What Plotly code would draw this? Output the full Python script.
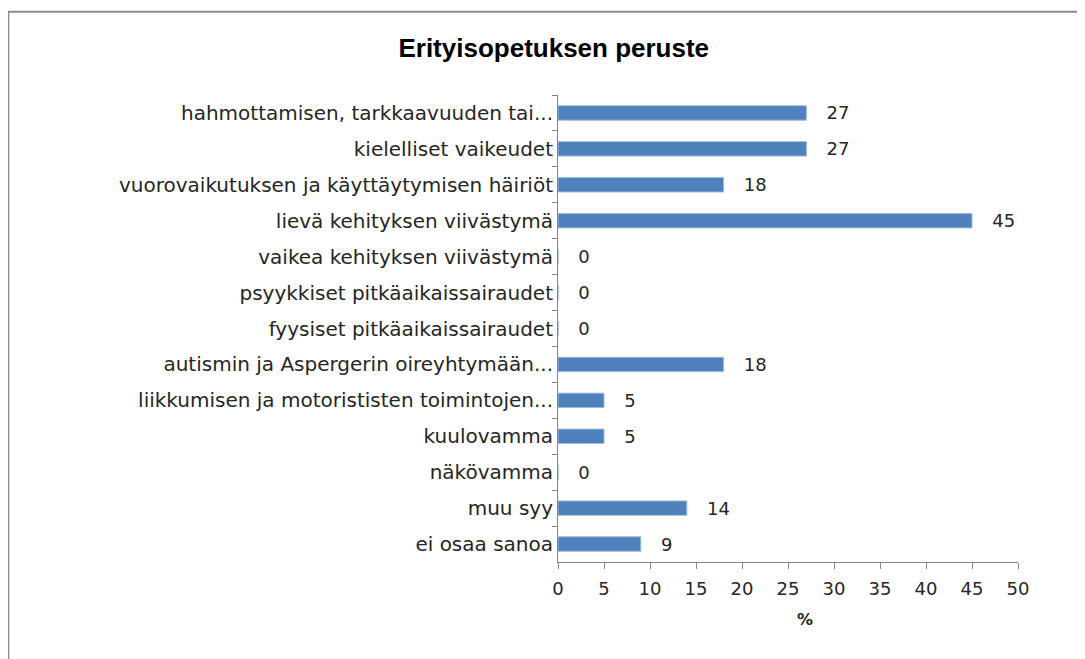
import plotly.graph_objects as go

categories = [
    "hahmottamisen, tarkkaavuuden tai...",
    "kielelliset vaikeudet",
    "vuorovaikutuksen ja käyttäytymisen häiriöt",
    "lievä kehityksen viivästymä",
    "vaikea kehityksen viivästymä",
    "psyykkiset pitkäaikaissairaudet",
    "fyysiset pitkäaikaissairaudet",
    "autismin ja Aspergerin oireyhtymään...",
    "liikkumisen ja motorististen toimintojen...",
    "kuulovamma",
    "näkövamma",
    "muu syy",
    "ei osaa sanoa",
]
values = [27, 27, 18, 45, 0, 0, 0, 18, 5, 5, 0, 14, 9]

x_ticks = list(range(0, 51, 5))

font = "DejaVu Sans, Verdana, sans-serif"
txt = "#262626"

fig = go.Figure(go.Bar(
    y=categories,
    x=values,
    orientation="h",
    marker=dict(color="#4F81BD", line=dict(color="#9DB9DE", width=1)),
    text=[f"   {v}" for v in values],
    textposition="outside",
    constraintext="none",
    textfont=dict(family=font, size=18, color=txt),
    cliponaxis=False,
))

# outer chart frame like the Excel chart area border
fig.add_shape(type="rect", xref="paper", yref="paper",
              x0=-1.195, x1=1.2, y0=-0.35, y1=1.178,
              line=dict(color="#8C8C8C", width=2))

fig.add_annotation(text="<b>%</b>", xref="paper", yref="paper",
                   x=0.537, y=-0.124, yanchor="middle", showarrow=False,
                   font=dict(family=font, size=16, color=txt))

fig.update_layout(
    width=1085, height=659,
    margin=dict(l=550, r=75, t=87, b=105),
    plot_bgcolor="white", paper_bgcolor="white",
    bargap=0.6,
    showlegend=False,
    title=dict(text="<b>Erityisopetuksen peruste</b>",
               x=0.503, xanchor="center", y=0.939, yanchor="middle",
               font=dict(family="Liberation Sans, Arial, sans-serif",
                         size=26, color="#000000")),
    font=dict(family=font, size=18, color=txt),
)

fig.update_xaxes(
    range=[0, 50], tickvals=x_ticks, showgrid=False, zeroline=False,
    showline=True, linecolor="#868686", linewidth=1,
    ticks="outside", ticklen=6, tickcolor="#868686", ticklabelstandoff=4,
    tickfont=dict(family=font, size=18, color=txt),
)
fig.update_yaxes(
    autorange="reversed", showgrid=False, zeroline=False,
    showline=True, linecolor="#868686", linewidth=1,
    ticks="outside", ticklen=5, tickcolor="#868686", tickson="boundaries",
    tickfont=dict(family=font, size=20, color=txt),
)

fig.write_html("out.html")
